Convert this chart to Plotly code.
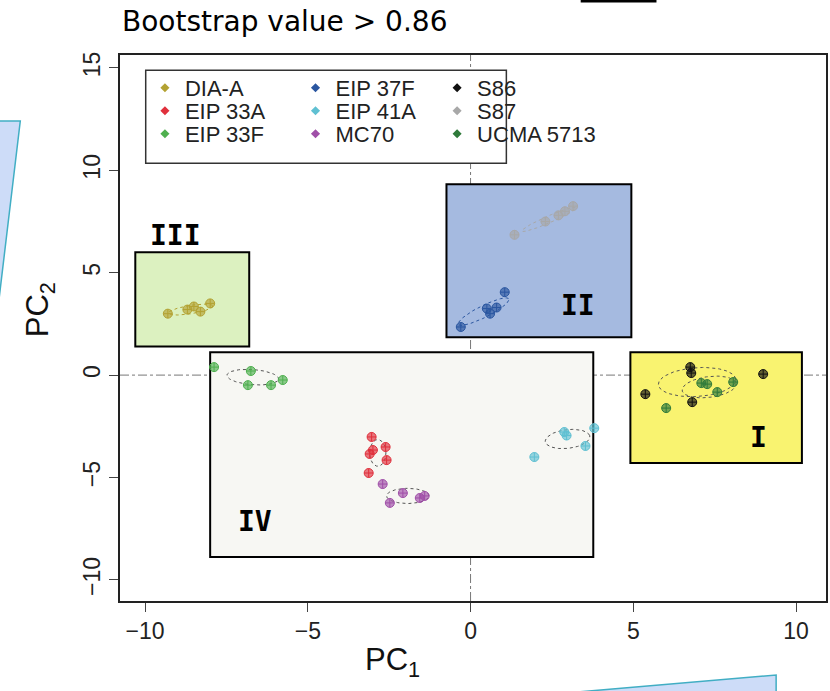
import numpy as np
import plotly.graph_objects as go

# ---------------- data ----------------
groups = ["DIA-A", "EIP 33A", "EIP 33F", "EIP 37F", "EIP 41A", "MC70", "S86", "S87", "UCMA 5713"]
colors = {"DIA-A": "#b3a232", "EIP 33A": "#e0303c", "EIP 33F": "#4fb04f", "EIP 37F": "#2a56a0",
          "EIP 41A": "#5fc0d2", "MC70": "#a04fa8", "S86": "#111111", "S87": "#a8a8a8",
          "UCMA 5713": "#2f7a3a"}

dia_x = [-9.3, -8.7, -8.5, -8.3, -8.0]
dia_y = [3.0, 3.2, 3.35, 3.1, 3.5]
eip33a_x = [-3.04, -3.0, -3.1, -2.61, -2.58, -3.13]
eip33a_y = [-3.02, -3.66, -3.85, -3.51, -4.15, -4.78]
eip33f_x = [-7.88, -6.75, -6.84, -6.13, -5.77]
eip33f_y = [0.39, 0.2, -0.49, -0.49, -0.24]
eip37f_x = [-0.3, 0.5, 0.8, 1.05, 0.6]
eip37f_y = [2.35, 3.25, 3.3, 4.05, 3.0]
eip41a_x = [1.96, 2.88, 2.95, 3.53, 3.8]
eip41a_y = [-4.0, -2.78, -2.95, -3.46, -2.59]
mc70_x = [-2.7, -2.08, -2.48, -1.56, -1.41]
mc70_y = [-5.32, -5.76, -6.24, -6.0, -5.9]
s86_x = [5.37, 6.75, 6.78, 6.81, 8.99]
s86_y = [-0.93, 0.39, 0.1, -1.32, 0.05]
s87_x = [1.35, 2.3, 2.7, 2.9, 3.15]
s87_y = [6.85, 7.5, 7.8, 8.0, 8.25]
ucma_x = [6.01, 7.09, 7.27, 7.58, 8.07]
ucma_y = [-1.61, -0.39, -0.44, -0.83, -0.34]

points = {"DIA-A": (dia_x, dia_y), "EIP 33A": (eip33a_x, eip33a_y), "EIP 33F": (eip33f_x, eip33f_y),
          "EIP 37F": (eip37f_x, eip37f_y), "EIP 41A": (eip41a_x, eip41a_y), "MC70": (mc70_x, mc70_y),
          "S86": (s86_x, s86_y), "S87": (s87_x, s87_y), "UCMA 5713": (ucma_x, ucma_y)}

# confidence ellipses: centre x, centre y, semi-axis a, semi-axis b, angle (deg)
ellipses = {"DIA-A": (-8.6, 3.2, 0.7, 0.2, 15), "EIP 37F": (0.4, 3.1, 1.0, 0.25, 40),
            "S87": (2.4, 7.6, 1.0, 0.15, 35), "S86": (6.96, -0.34, 1.2, 0.7, 8),
            "UCMA 5713": (7.33, -0.58, 0.85, 0.5, 15), "EIP 33F": (-6.69, -0.1, 0.8, 0.37, -8),
            "EIP 33A": (-2.85, -3.8, 0.25, 0.65, 0), "MC70": (-1.93, -5.9, 0.65, 0.37, 0),
            "EIP 41A": (2.98, -3.12, 0.7, 0.45, 15)}

# cluster boxes: label, x0, x1, y0, y1, fill, label x, label y
boxes = [("III", -10.3, -6.8, 1.4, 6.0, "#dcf1c0", -9.07, 6.84),
         ("II", -0.74, 4.94, 1.85, 9.32, "#a5bae0", 3.31, 3.42),
         ("I", 4.91, 10.18, -4.29, 1.12, "#f9f370", 8.85, -3.03),
         ("IV", -8.0, 3.77, -8.88, 1.12, "#f7f7f3", -6.61, -7.13)]

legend_cols = [["DIA-A", "EIP 33A", "EIP 33F"], ["EIP 37F", "EIP 41A", "MC70"], ["S86", "S87", "UCMA 5713"]]

x_ticks = [-10, -5, 0, 5, 10]
y_ticks = [-10, -5, 0, 5, 10, 15]


def rgba(hexc, a):
    h = hexc.lstrip("#")
    return "rgba(%d,%d,%d,%.2f)" % (int(h[0:2], 16), int(h[2:4], 16), int(h[4:6], 16), a)


def px(xp):
    return (xp - 120) / 708.0


def py(yp):
    return 1 - (yp - 55) / 546.0


fig = go.Figure()

# boxes
shapes = []
for lab, x0, x1, y0, y1, fc, lx, ly in boxes:
    shapes.append(dict(type="rect", xref="x", yref="y", x0=x0, x1=x1, y0=y0, y1=y1,
                       fillcolor=fc, line=dict(color="black", width=2), layer="below"))
# legend box
shapes.append(dict(type="rect", xref="x", yref="y", x0=-9.98, x1=1.10, y0=10.35, y1=14.89,
                   fillcolor="white", line=dict(color="#333", width=1.5), layer="below"))
# reference lines
shapes.append(dict(type="line", xref="x", yref="paper", x0=0, x1=0, y0=0, y1=1,
                   line=dict(color="#777", width=1, dash="dashdot"), layer="below"))
shapes.append(dict(type="line", xref="paper", yref="y", x0=0, x1=1, y0=0, y1=0,
                   line=dict(color="#777", width=1, dash="dashdot"), layer="below"))

# slide decorations (outside plot area)
shapes.append(dict(type="path", xref="paper", yref="paper",
                   path="M %f,%f L %f,%f L %f,%f Z" % (px(-5), py(121), px(20), py(121), px(-5), py(330)),
                   fillcolor="#cddcf8", line=dict(color="#41aec4", width=1.5), layer="above"))
shapes.append(dict(type="path", xref="paper", yref="paper",
                   path="M %f,%f L %f,%f L %f,%f Z" % (px(520), py(697), px(778), py(675), px(778), py(697)),
                   fillcolor="#cddcf8", line=dict(color="#41aec4", width=1.5), layer="above"))
shapes.append(dict(type="line", xref="paper", yref="paper", x0=px(582), x1=px(658), y0=py(1), y1=py(1),
                   line=dict(color="black", width=3)))

# ellipses
t = np.linspace(0, 2 * np.pi, 80)
for g in groups:
    cx, cy, a, b, ang = ellipses[g]
    th = np.deg2rad(ang)
    ex = cx + a * np.cos(t) * np.cos(th) - b * np.sin(t) * np.sin(th)
    ey = cy + a * np.cos(t) * np.sin(th) + b * np.sin(t) * np.cos(th)
    lc = "#555" if g in ("S86", "UCMA 5713", "EIP 33F", "EIP 41A", "MC70", "EIP 33A") else colors[g]
    fig.add_trace(go.Scatter(x=ex, y=ey, mode="lines", showlegend=False, hoverinfo="skip",
                             line=dict(color=lc, width=1, dash="dot")))

# points
for g in groups:
    xs, ys = points[g]
    fig.add_trace(go.Scatter(x=xs, y=ys, mode="markers", name=g, showlegend=False,
                             marker=dict(symbol="circle-cross", size=9, color=rgba(colors[g], 0.65),
                                         line=dict(color=colors[g], width=1))))

# legend entries: one legend per entry, arranged in 3 columns x 3 rows
col_x = [145, 296, 438]
row_y = [88, 111, 134]
legends = {}
k = 0
for i, col in enumerate(legend_cols):
    for j, g in enumerate(col):
        k += 1
        lname = "legend" if k == 1 else "legend%d" % k
        fig.add_trace(go.Scatter(x=[None], y=[None], mode="markers", name=g, legend=lname,
                                 marker=dict(symbol="diamond", size=7, color=colors[g])))
        legends[lname] = dict(bgcolor="rgba(0,0,0,0)", borderwidth=0,
                              font=dict(family="Liberation Sans", size=22, color="#222"),
                              xanchor="left", yanchor="middle", x=px(col_x[i]), y=py(row_y[j]),
                              itemwidth=30)

annotations = []
for lab, x0, x1, y0, y1, fc, lx, ly in boxes:
    annotations.append(dict(x=lx, y=ly, xref="x", yref="y", text="<b>%s</b>" % lab, showarrow=False,
                            xanchor="center", yanchor="middle",
                            font=dict(family="DejaVu Sans Mono", size=28, color="black")))
annotations.append(dict(x=px(120), y=py(22), xref="paper", yref="paper", xanchor="left", yanchor="middle",
                        text="Bootstrap value &gt; 0.86", showarrow=False,
                        font=dict(family="DejaVu Sans", size=28, color="black")))
annotations.append(dict(x=px(393), y=py(662), xref="paper", yref="paper", text="PC<sub>1</sub>",
                        xanchor="center", yanchor="middle",
                        showarrow=False, font=dict(family="Liberation Sans", size=31, color="#111")))
annotations.append(dict(x=px(40), y=py(310), xref="paper", yref="paper", text="PC<sub>2</sub>", textangle=-90,
                        xanchor="center", yanchor="middle",
                        showarrow=False, font=dict(family="Liberation Sans", size=31, color="#111")))

fig.update_layout(
    width=830, height=691,
    margin=dict(l=120, r=2, t=55, b=90),
    paper_bgcolor="white", plot_bgcolor="white",
    shapes=shapes, annotations=annotations,
    xaxis=dict(range=[-10.77, 10.92], tickvals=x_ticks, ticks="outside", ticklen=9, tickwidth=1.2,
               showgrid=False, zeroline=False, showline=True, mirror=True, linecolor="#222", linewidth=1.5,
               tickfont=dict(family="Liberation Sans", size=23, color="#222")),
    yaxis=dict(range=[-11.03, 15.63], tickvals=y_ticks, ticks="outside", ticklen=9, tickwidth=1.2,
               showgrid=False, zeroline=False, showline=True, mirror=True, linecolor="#222", linewidth=1.5,
               tickangle=-90, tickfont=dict(family="Liberation Sans", size=23, color="#222")),
    **legends,
)

fig.write_html("out.html", config={"displayModeBar": False},
               post_script="document.body.style.margin='0px';document.body.style.overflow='hidden';")
